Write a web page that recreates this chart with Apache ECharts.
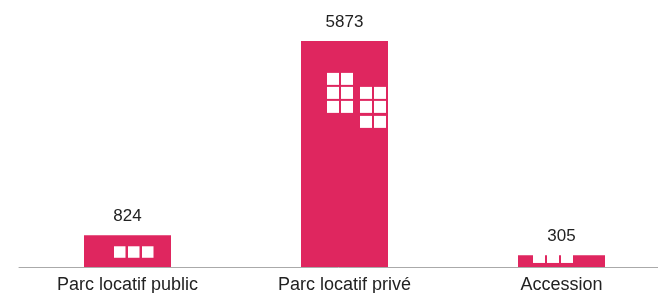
<!DOCTYPE html>
<html>
<head>
<meta charset="utf-8">
<script src="https://cdn.jsdelivr.net/npm/echarts@6/dist/echarts.min.js"></script>
<style>
  html, body { margin: 0; padding: 0; background: #fff; }
  #main { width: 658px; height: 293px; }
</style>
</head>
<body>
<div id="main"></div>
<script>
// données
var categories = ['Parc locatif public', 'Parc locatif privé', 'Accession'];
var values = [824, 5873, 305];

// petites fenêtres blanches dessinées sur chaque barre (décor)
// [dx, dy] depuis le coin haut-gauche de la barre
var windows = [
    [[30, 11], [44, 11], [58, 11]],
    [[26, 32], [40, 32], [26, 46], [40, 46], [26, 60], [40, 60],
     [59, 46], [73, 46], [59, 60], [73, 60], [59, 75], [73, 75]],
    [[15, -1], [29, -1], [43, -1]]
];
var winSize = [[11.5, 11.5], [12, 12], [12, 8.7]];

var barColor = '#df265f';
var barWidth = 87;

var myChart = echarts.init(document.getElementById('main'));
var option = {
    animation: false,
    grid: { left: 19, width: 651, top: 36, bottom: 26, outerBoundsMode: 'none', containLabel: false },
    xAxis: {
        type: 'category',
        data: categories,
        axisTick: { show: false },
        axisLine: { lineStyle: { color: '#aaa', width: 1 } },
        axisLabel: {
            color: '#222',
            fontSize: 18,
            fontFamily: 'Liberation Sans',
            margin: 9
        }
    },
    yAxis: {
        type: 'value',
        min: 0,
        max: 6000,
        show: false,
        splitLine: { show: false }
    },
    series: [{
        type: 'bar',
        data: values,
        barWidth: barWidth,
        itemStyle: { color: barColor },
        label: {
            show: true,
            position: 'top',
            distance: 10,
            color: '#222',
            fontSize: 17,
            fontFamily: 'Liberation Sans'
        }
    }, {
        type: 'custom',
        data: values.map(function (v, i) { return [i, v]; }),
        renderItem: function (params, api) {
            var i = api.value(0);
            var top = api.coord([i, api.value(1)]);
            var x0 = top[0] - barWidth / 2;
            var y0 = top[1];
            var sz = winSize[i];
            return {
                type: 'group',
                children: windows[i].map(function (w) {
                    return {
                        type: 'rect',
                        shape: { x: x0 + w[0], y: y0 + w[1], width: sz[0], height: sz[1] },
                        style: { fill: '#fff' }
                    };
                })
            };
        },
        z: 3
    }]
};
myChart.setOption(option);
</script>
</body>
</html>
